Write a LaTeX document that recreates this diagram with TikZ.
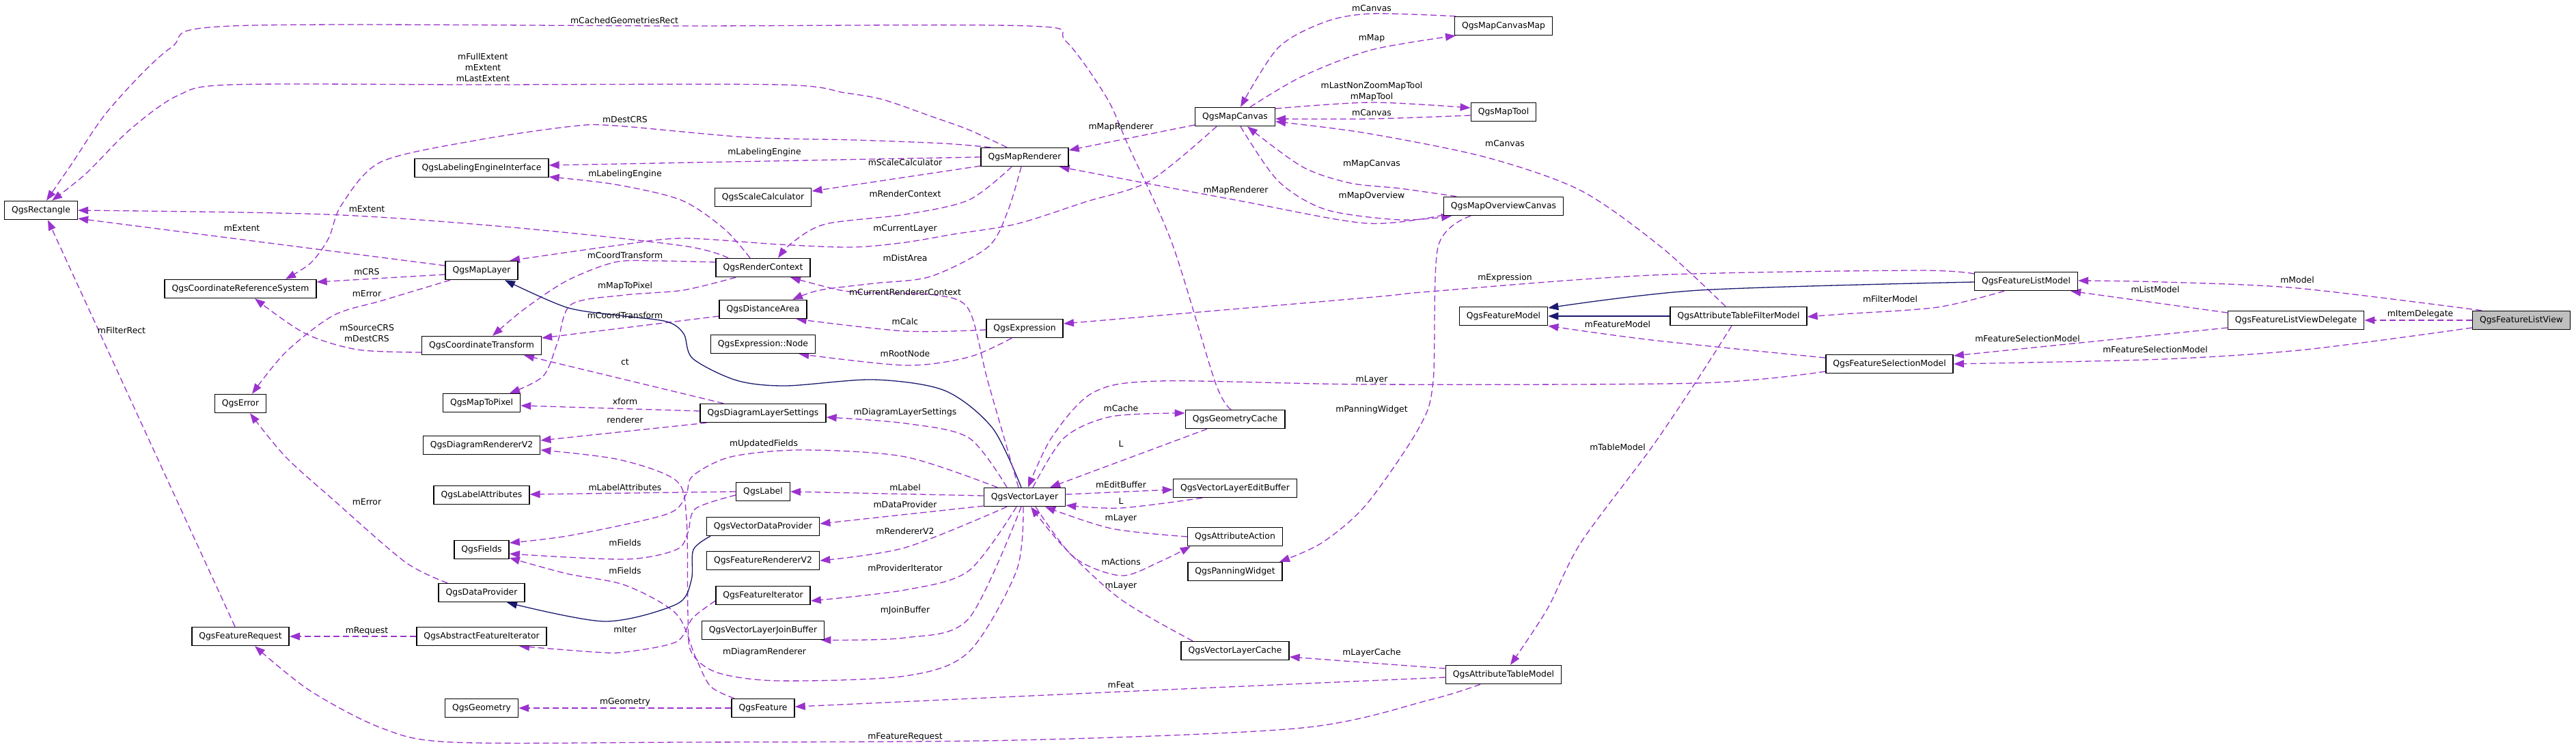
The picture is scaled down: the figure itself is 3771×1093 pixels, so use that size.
\documentclass[tikz,border=0pt]{standalone}
\usepackage{fontspec}
\setmainfont{DejaVu Sans}
\usetikzlibrary{arrows.meta}
\definecolor{purp}{HTML}{9A32CD}
\definecolor{navy}{HTML}{191970}
\definecolor{curfill}{HTML}{BFBFBF}
\pgfdeclarelayer{bg}
\pgfdeclarelayer{edges}
\pgfsetlayers{bg,edges,main}
\tikzset{
  cls/.style={draw=black, line width=1.5pt, fill=white, inner xsep=10.5pt, inner ysep=0pt, minimum height=27pt, font=\fontsize{12.4pt}{15pt}\selectfont},
  rel/.style={draw=purp, line width=1.3pt, dash pattern=on 9pt off 5pt, -{Triangle[length=15pt,width=11pt]}},
  inh/.style={draw=navy, line width=1.3pt, -{Triangle[length=15pt,width=11pt]}},
  lbl/.style={font=\fontsize{12.4pt}{16pt}\selectfont, inner sep=0pt, align=center},
  sm/.style={smooth, tension=0.5}
}
\begin{document}
\begin{tikzpicture}[x=1pt,y=-1pt]
\useasboundingbox (0,0) rectangle (3771,1093);
\begin{pgfonlayer}{bg}
\fill[white] (0,0) rectangle (3771,1093);
\end{pgfonlayer}
% nodes
\node[cls] (rect) at (60,308) {QgsRectangle};
\node[cls] (crs) at (352,423) {QgsCoordinateReferenceSystem};
\node[cls] (err) at (352,591) {QgsError};
\node[cls] (freq) at (352,932) {QgsFeatureRequest};
\node[cls] (lei) at (705,246) {QgsLabelingEngineInterface};
\node[cls] (ml) at (705,396) {QgsMapLayer};
\node[cls] (ct) at (705,506) {QgsCoordinateTransform};
\node[cls] (mtp) at (705,590) {QgsMapToPixel};
\node[cls] (drv) at (705,652) {QgsDiagramRendererV2};
\node[cls] (lat) at (705,725) {QgsLabelAttributes};
\node[cls] (fld) at (705,805) {QgsFields};
\node[cls] (dp) at (705,868) {QgsDataProvider};
\node[cls] (afi) at (705,932) {QgsAbstractFeatureIterator};
\node[cls] (geo) at (705,1037) {QgsGeometry};
\node[cls] (sc) at (1117,289) {QgsScaleCalculator};
\node[cls] (rc) at (1117,392) {QgsRenderContext};
\node[cls] (da) at (1117,453) {QgsDistanceArea};
\node[cls] (en) at (1117,504) {QgsExpression::Node};
\node[cls] (dls) at (1117,605) {QgsDiagramLayerSettings};
\node[cls] (lab) at (1117,720) {QgsLabel};
\node[cls] (vdp) at (1117,771) {QgsVectorDataProvider};
\node[cls] (frv) at (1117,821) {QgsFeatureRendererV2};
\node[cls] (fi) at (1117,872) {QgsFeatureIterator};
\node[cls] (vjb) at (1117,923) {QgsVectorLayerJoinBuffer};
\node[cls] (feat) at (1117,1037) {QgsFeature};
\node[cls] (mr) at (1500,230) {QgsMapRenderer};
\node[cls] (expr) at (1500,481) {QgsExpression};
\node[cls] (vl) at (1500,728) {QgsVectorLayer};
\node[cls] (mc) at (1808,171) {QgsMapCanvas};
\node[cls] (gc) at (1808,614) {QgsGeometryCache};
\node[cls] (veb) at (1808,715) {QgsVectorLayerEditBuffer};
\node[cls] (aa) at (1808,786) {QgsAttributeAction};
\node[cls] (pw) at (1808,837) {QgsPanningWidget};
\node[cls] (vlc) at (1808,953) {QgsVectorLayerCache};
\node[cls] (mcm) at (2201,38) {QgsMapCanvasMap};
\node[cls] (mt) at (2201,164) {QgsMapTool};
\node[cls] (moc) at (2201,302) {QgsMapOverviewCanvas};
\node[cls] (fm) at (2201,463) {QgsFeatureModel};
\node[cls] (atm) at (2201,988) {QgsAttributeTableModel};
\node[cls] (atfm) at (2545,463) {QgsAttributeTableFilterModel};
\node[cls] (fsm) at (2766,533) {QgsFeatureSelectionModel};
\node[cls] (flm) at (2966,412) {QgsFeatureListModel};
\node[cls] (flvd) at (3361,469) {QgsFeatureListViewDelegate};
\node[cls,fill=curfill] (flv) at (3691,469) {QgsFeatureListView};
% edges
\begin{pgfonlayer}{edges}
\draw[rel] plot[sm] coordinates {([shift={(-6,0)}]gc.north) (1779,560) (1716,357) (1652,214) (1620,143) (1560,60) (1505,38) (1000,38) (340,38) (250,70) (160,160) (105,240) ([shift={(8,0)}]rect.north)};
\draw[rel] plot[sm] coordinates {([shift={(-26,0)}]mr.north) (1418,190) (1365,171) (1293,146) (1237,136) (1140,124) (700,124) (340,124) (260,140) (190,190) (125,255) ([shift={(16,0)}]rect.north)};
\draw[rel] plot[sm] coordinates {([shift={(-50,0)}]mr.north) (1380,210) (1250,205) (1093,201) (900,184) (837,185) (700,205) (558,237) (500,300) (481,349) (455,385) ([shift={(66,0)}]crs.north)};
\draw[rel] (mr.west) -- ([shift={(0,-4)}]lei.east);
\draw[rel] plot[sm] coordinates {([shift={(-19,0)}]rc.north) (1060,335) (997,293) (900,270) ([shift={(0,13)}]lei.east)};
\draw[rel] ([shift={(0,13)}]mr.west) -- ([shift={(0,-9)}]sc.east);
\draw[rel] plot[sm] coordinates {([shift={(-19,0)}]mr.south) (1418,293) (1325,314) (1209,328) (1160,355) ([shift={(22,0)}]rc.north)};
\draw[rel] plot[sm] coordinates {([shift={(-5,0)}]mr.south) (1475,310) (1446,362) (1362,405) (1279,415) (1200,425) ([shift={(43,0)}]da.north)};
\draw[rel] plot[sm] coordinates {([shift={(-51,0)}]rc.north) (1000,360) (750,333) (478,314) (rect.east)};
\draw[rel] ([shift={(0,-7)}]ml.west) -- ([shift={(0,12)}]rect.east);
\draw[rel] plot[sm] coordinates {([shift={(-27,0)}]mc.south) (1683,265) (1588,296) (1488,328) (1396,343) (1325,355) (1247,362) (1141,358) (1000,349) (906,359) ([shift={(41,0)}]ml.north)};
\draw[rel] ([shift={(0,6)}]ml.west) -- ([shift={(0,-10)}]crs.east);
\draw[rel] plot[sm] coordinates {([shift={(-46,0)}]ml.south) (560,440) (488,462) (418,516) ([shift={(17,0)}]err.north)};
\draw[rel] plot[sm] coordinates {([shift={(0,-8)}]rc.west) (960,382) (900,384) (830,411) (767,453) ([shift={(16,0)}]ct.north)};
\draw[rel] plot[sm] coordinates {([shift={(-40,0)}]rc.south) (1000,425) (915,432) (836,446) (816,502) (795,551) ([shift={(41,0)}]mtp.north)};
\draw[rel] ([shift={(0,10)}]da.west) -- ([shift={(0,-11)}]ct.east);
\draw[rel] plot[sm] coordinates {([shift={(0,10)}]ct.west) (523,512) (446,488) ([shift={(21,0)}]crs.south)};
\draw[rel] ([shift={(-58,0)}]dls.north) -- ([shift={(62,0)}]ct.south);
\draw[rel] ([shift={(0,-3)}]dls.west) -- ([shift={(0,4)}]mtp.east);
\draw[rel] ([shift={(10,0)}]dls.south west) -- ([shift={(0,-7)}]drv.east);
\draw[rel] plot[sm] coordinates {([shift={(-2,0)}]vl.south) (1488,836) (1418,955) (1325,990) (1139,997) (1050,985) (1012,955) (1007,900) (1005,760) (990,704) (906,673) ([shift={(0,7)}]drv.east)};
\draw[rel] (lab.west) -- ([shift={(0,-1)}]lat.east);
\draw[rel] plot[sm] coordinates {([shift={(-40,0)}]vl.north) (1325,669) (1174,659) (1070,669) (1014,697) (1004,725) (976,753) (836,784) ([shift={(0,-10)}]fld.east)};
\draw[rel] plot[sm] coordinates {([shift={(0,5)}]lab.west) (1018,745) (1007,780) (990,805) (915,819) ([shift={(0,6)}]fld.east)};
\draw[rel] plot[sm] coordinates {([shift={(-42,0)}]feat.north) (1040,1005) (1018,962) (990,899) (915,857) (829,840) ([shift={(0,12)}]fld.east)};
\draw[rel] (feat.west) -- (geo.east);
\draw[inh] plot[sm] coordinates {([shift={(-77,0)}]vdp.south) (1015,805) (1012,850) (990,885) (885,910) ([shift={(37,0)}]dp.south)};
\draw[inh] plot[sm] coordinates {([shift={(-5,0)}]vl.north) (1453,627) (1383,572) (1279,556) (1150,565) (1078,557) (1014,525) (1001,489) (976,471) (906,462) (829,450) ([shift={(34,0)}]ml.south)};
\draw[rel] (afi.west) -- (freq.east);
\draw[rel] plot[sm] coordinates {([shift={(0,8)}]fi.west) (1014,905) (990,940) (915,955) (871,955) ([shift={(55,0)}]afi.south)};
\draw[rel] plot[sm] coordinates {([shift={(-34,0)}]atm.south) (2093,1025) (1906,1066) (1488,1084) (1000,1087) (662,1087) (558,1066) (453,1011) ([shift={(21,0)}]freq.south)};
\draw[rel] ([shift={(-8,0)}]freq.north) -- ([shift={(10,0)}]rect.south);
\draw[rel] plot[sm] coordinates {([shift={(-50,0)}]dp.north) (593,823) (488,732) (418,669) ([shift={(14,0)}]err.south)};
\draw[rel] ([shift={(0,12)}]mc.west) -- ([shift={(0,-10)}]mr.east);
\draw[rel] plot[sm] coordinates {([shift={(0,13)}]moc.west) (2000,327) (1809,293) ([shift={(-14,0)}]mr.south east)};
\draw[rel] plot[sm] coordinates {([shift={(-69,0)}]moc.north) (2050,276) (1976,268) (1906,244) ([shift={(18,0)}]mc.south)};
\draw[rel] plot[sm] coordinates {([shift={(8,0)}]mc.south) (1871,265) (1941,307) (2050,322) ([shift={(-76,0)}]moc.south)};
\draw[rel] plot[sm] coordinates {([shift={(-70,0)}]mcm.north) (2008,20) (1940,32) (1871,70) ([shift={(8,0)}]mc.north)};
\draw[rel] plot[sm] coordinates {([shift={(22,0)}]mc.north) (1906,112) (2008,73) ([shift={(-70,0)}]mcm.south)};
\draw[rel] plot[sm] coordinates {([shift={(0,-12)}]mc.east) (2008,150) ([shift={(0,-6)}]mt.west)};
\draw[rel] plot[sm] coordinates {([shift={(0,5)}]mt.west) (2008,174) ([shift={(0,3)}]mc.east)};
\draw[rel] plot[sm] coordinates {([shift={(-19,0)}]atfm.north) (2432,362) (2314,279) (2174,230) (2000,195) ([shift={(0,7)}]mc.east)};
\draw[rel] plot[sm] coordinates {([shift={(-48,0)}]moc.south) (2105,362) (2098,558) (2077,627) (2000,739) (1935,795) ([shift={(65,0)}]pw.north)};
\draw[rel] plot[sm] coordinates {([shift={(0,11)}]fsm.west) (2488,561) (2008,563) (1697,558) (1600,575) (1540,640) ([shift={(5,0)}]vl.north)};
\draw[rel] plot[sm] coordinates {([shift={(12,0)}]vl.north) (1558,641) (1627,610) ([shift={(0,-9)}]gc.west)};
\draw[rel] ([shift={(-41,0)}]gc.south) -- ([shift={(37,0)}]vl.north);
\draw[rel] ([shift={(0,-4)}]vl.east) -- ([shift={(0,2)}]veb.west);
\draw[rel] plot[sm] coordinates {([shift={(-48,0)}]veb.south) (1641,744) ([shift={(0,12)}]vl.east)};
\draw[rel] plot[sm] coordinates {(aa.west) (1627,774) ([shift={(30,0)}]vl.south)};
\draw[rel] plot[sm] coordinates {([shift={(16,0)}]vl.south) (1572,816) (1641,843) (1697,823) ([shift={(5,0)}]aa.south west)};
\draw[rel] plot[sm] coordinates {([shift={(-62,0)}]vlc.north) (1641,878) (1558,802) ([shift={(9,0)}]vl.south)};
\draw[rel] ([shift={(0,-9)}]atm.west) -- ([shift={(0,9)}]vlc.east);
\draw[rel] plot[sm] coordinates {([shift={(0,4)}]atm.west) (1641,1013) ([shift={(0,-2)}]feat.east)};
\draw[rel] plot[sm] coordinates {([shift={(-26,0)}]vl.north) (1418,641) (1325,620) ([shift={(0,6)}]dls.east)};
\draw[rel] ([shift={(0,-2)}]vl.west) -- (lab.east);
\draw[rel] ([shift={(0,13)}]vl.west) -- ([shift={(0,-4)}]vdp.east);
\draw[rel] plot[sm] coordinates {([shift={(-26,0)}]vl.south) (1325,802) (frv.east)};
\draw[rel] plot[sm] coordinates {([shift={(-12,0)}]vl.south) (1418,836) (1325,864) ([shift={(0,8)}]fi.east)};
\draw[rel] plot[sm] coordinates {([shift={(-5,0)}]vl.south) (1418,906) (1325,934) ([shift={(-6,0)}]vjb.south east)};
\draw[rel] plot[sm] coordinates {([shift={(0,2)}]expr.west) (1325,485) ([shift={(-16,0)}]da.south east)};
\draw[rel] plot[sm] coordinates {([shift={(-19,0)}]expr.south) (1418,523) (1325,535) ([shift={(-25,0)}]en.south east)};
\draw[rel] plot[sm] coordinates {([shift={(-9,0)}]vl.north) (1446,558) (1418,453) (1369,432) (1279,429) (1230,425) ([shift={(40,0)}]rc.south)};
\draw[rel] plot[sm] coordinates {([shift={(0,-11)}]flm.west) (2802,396) (2418,403) (2093,427) (2000,436) ([shift={(0,-7)}]expr.east)};
\draw[inh] plot[sm] coordinates {([shift={(0,1)}]flm.west) (2488,425) ([shift={(0,-12)}]fm.east)};
\draw[inh] (atfm.west) -- (fm.east);
\draw[rel] plot[sm] coordinates {([shift={(-32,0)}]flm.south) (2836,450) (2697,460) ([shift={(0,1)}]atfm.east)};
\draw[rel] plot[sm] coordinates {([shift={(0,-9)}]fsm.west) (2418,498) (fm.south east)};
\draw[rel] plot[sm] coordinates {([shift={(-10,0)}]atfm.south) (2488,551) (2418,655) (2314,795) (2265,892) ([shift={(10,0)}]atm.north)};
\draw[rel] plot[sm] coordinates {([shift={(-58,0)}]flv.north) (3363,422) (3166,413) ([shift={(0,-1)}]flm.east)};
\draw[rel] ([shift={(0,-11)}]flvd.west) -- ([shift={(-11,0)}]flm.south east);
\draw[rel] (flv.west) -- (flvd.east);
\draw[rel] ([shift={(0,11)}]flvd.west) -- ([shift={(0,-12)}]fsm.east);
\draw[rel] plot[sm] coordinates {([shift={(0,11)}]flv.west) (3375,512) (3166,526) (fsm.east)};
\end{pgfonlayer}
% labels
\node[lbl] (t1) at (914,30) {mCachedGeometriesRect};
\node[lbl] (t2) at (707,99) {mFullExtent\\mExtent\\mLastExtent};
\node[lbl] (t3) at (915,175) {mDestCRS};
\node[lbl] (t4) at (1119,223) {mLabelingEngine};
\node[lbl] (t5) at (915,255) {mLabelingEngine};
\node[lbl] (t6) at (1325,238) {mScaleCalculator};
\node[lbl] (t7) at (1325,284) {mRenderContext};
\node[lbl] (t8) at (1325,335) {mCurrentLayer};
\node[lbl] (t9) at (1325,378) {mDistArea};
\node[lbl] (t10) at (537,306) {mExtent};
\node[lbl] (t11) at (354,334) {mExtent};
\node[lbl] (t12) at (537,398) {mCRS};
\node[lbl] (t13) at (537,430) {mError};
\node[lbl] (t14) at (915,374) {mCoordTransform};
\node[lbl] (t15) at (915,419) {mMapToPixel};
\node[lbl] (t16) at (915,462) {mCoordTransform};
\node[lbl] (t17) at (537,488) {mSourceCRS\\mDestCRS};
\node[lbl] (t18) at (178,484) {mFilterRect};
\node[lbl] (t19) at (915,530) {ct};
\node[lbl] (t20) at (915,588) {xform};
\node[lbl] (t21) at (915,615) {renderer};
\node[lbl] (t22) at (915,714) {mLabelAttributes};
\node[lbl] (t23) at (537,735) {mError};
\node[lbl] (t24) at (915,795) {mFields};
\node[lbl] (t25) at (915,836) {mFields};
\node[lbl] (t26) at (537,924) {mRequest};
\node[lbl] (t27) at (915,922) {mIter};
\node[lbl] (t28) at (915,1028) {mGeometry};
\node[lbl] (t29) at (1325,428) {mCurrentRendererContext};
\node[lbl] (t30) at (1325,471) {mCalc};
\node[lbl] (t31) at (1325,518) {mRootNode};
\node[lbl] (t32) at (1325,604) {mDiagramLayerSettings};
\node[lbl] (t33) at (1118,650) {mUpdatedFields};
\node[lbl] (t34) at (1325,714) {mLabel};
\node[lbl] (t35) at (1325,739) {mDataProvider};
\node[lbl] (t36) at (1325,778) {mRendererV2};
\node[lbl] (t37) at (1325,832) {mProviderIterator};
\node[lbl] (t38) at (1325,894) {mJoinBuffer};
\node[lbl] (t39) at (1119,955) {mDiagramRenderer};
\node[lbl] (t40) at (1325,1079) {mFeatureRequest};
\node[lbl] (t41) at (1641,186) {mMapRenderer};
\node[lbl] (t42) at (1809,279) {mMapRenderer};
\node[lbl] (t43) at (1641,598) {mCache};
\node[lbl] (t44) at (1641,650) {L};
\node[lbl] (t45) at (1641,710) {mEditBuffer};
\node[lbl] (t46) at (1641,734) {L};
\node[lbl] (t47) at (1641,759) {mLayer};
\node[lbl] (t48) at (1641,823) {mActions};
\node[lbl] (t49) at (1641,858) {mLayer};
\node[lbl] (t50) at (1641,1003) {mFeat};
\node[lbl] (t51) at (2008,12) {mCanvas};
\node[lbl] (t52) at (2008,56) {mMap};
\node[lbl] (t53) at (2008,134) {mLastNonZoomMapTool\\mMapTool};
\node[lbl] (t54) at (2008,165) {mCanvas};
\node[lbl] (t55) at (2008,240) {mMapCanvas};
\node[lbl] (t56) at (2008,287) {mMapOverview};
\node[lbl] (t57) at (2008,556) {mLayer};
\node[lbl] (t58) at (2008,600) {mPanningWidget};
\node[lbl] (t59) at (2008,956) {mLayerCache};
\node[lbl] (t60) at (2203,210) {mCanvas};
\node[lbl] (t61) at (2203,407) {mExpression};
\node[lbl] (t62) at (2767,438) {mFilterModel};
\node[lbl] (t63) at (2368,475) {mFeatureModel};
\node[lbl] (t64) at (2968,496) {mFeatureSelectionModel};
\node[lbl] (t65) at (2368,655) {mTableModel};
\node[lbl] (t66) at (3363,410) {mModel};
\node[lbl] (t67) at (3155,424) {mListModel};
\node[lbl] (t68) at (3543,460) {mItemDelegate};
\node[lbl] (t69) at (3155,512) {mFeatureSelectionModel};
\end{tikzpicture}
\end{document}
